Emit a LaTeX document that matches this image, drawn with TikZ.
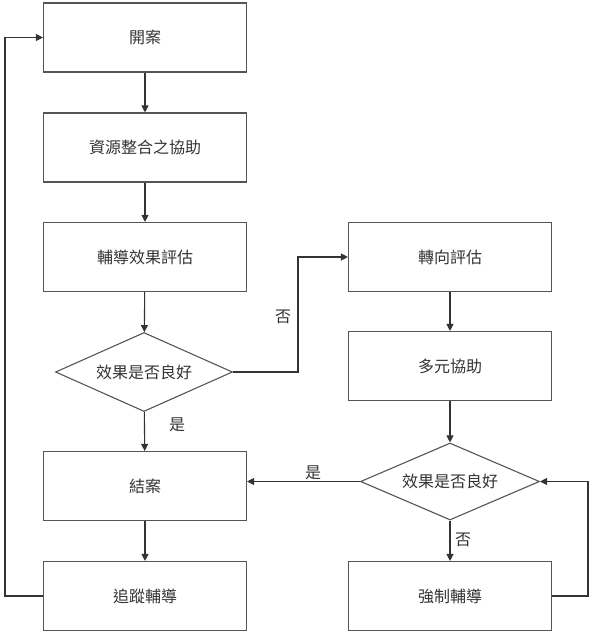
\documentclass[tikz,border=0pt]{standalone}
\usepackage{fontspec}
\setmainfont{Noto Sans CJK TC}
\usetikzlibrary{shapes.geometric,arrows.meta}
\definecolor{edge}{HTML}{555555}
\definecolor{ink}{HTML}{333333}
\tikzset{
  flowbox/.style={draw=edge, line width=1.1pt, rectangle, minimum width=203pt, minimum height=69pt, inner sep=0pt, font=\fontsize{16}{18}\selectfont, text=ink},
  decide/.style={draw=edge, line width=1.1pt, diamond, aspect=2.25, inner sep=0pt, font=\fontsize{16}{18}\selectfont, text=ink},
  arr/.style={draw=ink, line width=1.1pt, -{Triangle[length=7pt,width=7pt]}},
  lbl/.style={font=\fontsize{16}{18}\selectfont, text=ink, inner sep=0pt}
}
\begin{document}
\begin{tikzpicture}[x=1pt,y=-1pt]
\useasboundingbox (0,0) rectangle (597,635);
\node[flowbox] (a1) at (145,37.5) {開案};
\node[flowbox] (a2) at (145,147.5) {資源整合之協助};
\node[flowbox] (a3) at (145,257) {輔導效果評估};
\node[decide, minimum width=177pt, minimum height=79pt] (d1) at (144,372) {效果是否良好};
\node[flowbox] (a5) at (145,486) {結案};
\node[flowbox] (a6) at (145,596) {追蹤輔導};
\node[flowbox] (b1) at (450,257) {轉向評估};
\node[flowbox] (b2) at (450,366) {多元協助};
\node[decide, minimum width=179pt, minimum height=77pt] (d2) at (450,481.5) {效果是否良好};
\node[flowbox] (b3) at (450,596) {強制輔導};
\coordinate (L) at (5,0);
\coordinate (N) at (298,0);
\coordinate (R) at (588,0);
\draw[arr] (a1) -- (a2);
\draw[arr] (a2) -- (a3);
\draw[arr] (a3) -- (d1);
\draw[arr] (d1) -- (a5);
\draw[arr] (a5) -- (a6);
\draw[arr] (a6.west) -- (a6.west -| L) -- (a1.west -| L) -- (a1.west);
\draw[arr] (d1.east) -- (d1.east -| N) -- (b1.west -| N) -- (b1.west);
\draw[arr] (b1) -- (b2);
\draw[arr] (b2) -- (d2);
\draw[arr] (d2.west) -- (a5.east |- d2.west);
\draw[arr] (d2) -- (b3);
\draw[arr] (b3.east) -- (b3.east -| R) -- (d2.east -| R) -- (d2.east);
\node[lbl] (n1) at (283,317) {否};
\node[lbl] (y1) at (177,425) {是};
\node[lbl] (y2) at (313,473) {是};
\node[lbl] (n2) at (463,540) {否};
\end{tikzpicture}
\end{document}
